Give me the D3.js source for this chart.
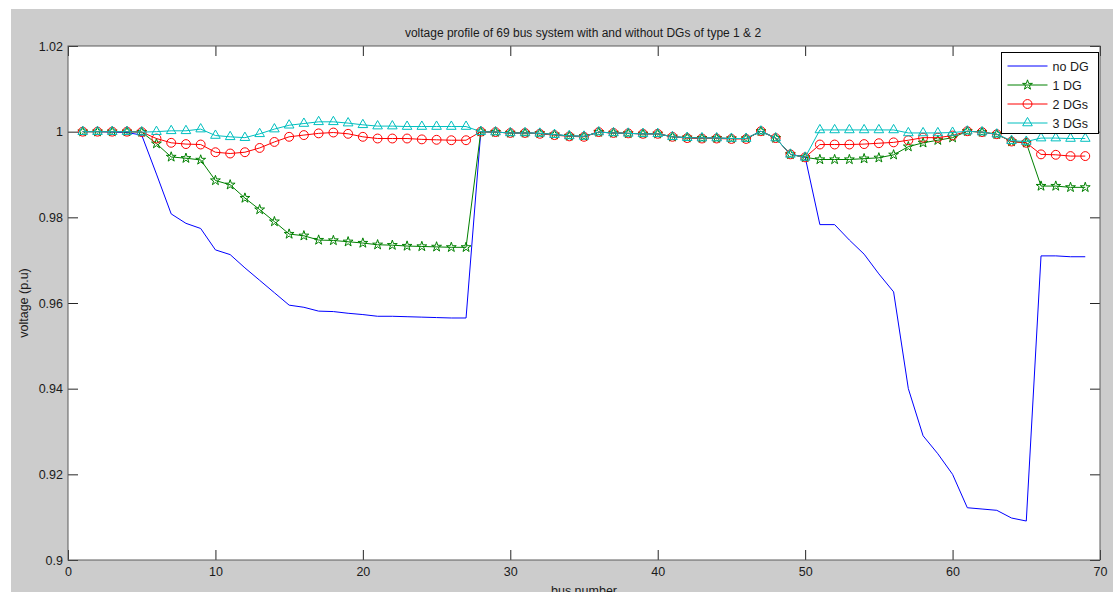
<!DOCTYPE html>
<html>
<head>
<meta charset="utf-8">
<script src="https://cdn.jsdelivr.net/npm/d3@7"></script>
<style>
    html, body { margin: 0; padding: 0; background: #ffffff; }
    svg { display: block; }
    text { font-family: Arial, "Liberation Sans", sans-serif; fill: #1a1a1a; }
</style>
</head>
<body>
<svg id="chart" width="1113" height="592"></svg>
<script>

//*************************************************
// Data
//*************************************************
var busNumbers = [1, 2, 3, 4, 5, 6, 7, 8, 9, 10, 11, 12, 13, 14, 15, 16, 17, 18, 19, 20,
    21, 22, 23, 24, 25, 26, 27, 28, 29, 30, 31, 32, 33, 34, 35, 36, 37, 38, 39, 40,
    41, 42, 43, 44, 45, 46, 47, 48, 49, 50, 51, 52, 53, 54, 55, 56, 57, 58, 59, 60,
    61, 62, 63, 64, 65, 66, 67, 68, 69];

var vNoDG = [1.0000, 1.0000, 0.9999, 0.9998, 0.9992, 0.9901, 0.9808, 0.9786, 0.9774, 0.9724,
    0.9713, 0.9682, 0.9653, 0.9624, 0.9595, 0.9590, 0.9581, 0.9580, 0.9576, 0.9573,
    0.9569, 0.9569, 0.9568, 0.9567, 0.9566, 0.9565, 0.9565,
    1.0000, 0.9999, 0.9997, 0.9997, 0.9996, 0.9993, 0.9990, 0.9989, 0.9999, 0.9997,
    0.9996, 0.9995, 0.9995, 0.9988, 0.9986, 0.9985, 0.9985, 0.9984, 0.9984, 1.0001,
    0.9985, 0.9947, 0.9941,
    0.9783, 0.9783, 0.9747, 0.9714, 0.9668, 0.9626, 0.9400, 0.9290, 0.9248, 0.9200,
    0.9122, 0.9119, 0.9116, 0.9098, 0.9091, 0.9710, 0.9710, 0.9708, 0.9708];

var v1DG = [1.0000, 1.0000, 1.0000, 1.0000, 0.9999, 0.9972, 0.9941, 0.9938, 0.9934, 0.9886,
    0.9876, 0.9845, 0.9818, 0.9790, 0.9761, 0.9757, 0.9747, 0.9746, 0.9743, 0.9740,
    0.9736, 0.9735, 0.9733, 0.9732, 0.9731, 0.9730, 0.9730,
    1.0000, 0.9999, 0.9997, 0.9997, 0.9996, 0.9993, 0.9990, 0.9989, 0.9999, 0.9997,
    0.9996, 0.9995, 0.9995, 0.9988, 0.9986, 0.9985, 0.9985, 0.9984, 0.9984, 1.0001,
    0.9985, 0.9947, 0.9940,
    0.9935, 0.9935, 0.9935, 0.9937, 0.9939, 0.9946, 0.9965, 0.9974, 0.9980, 0.9986,
    1.0001, 0.9999, 0.9994, 0.9977, 0.9974, 0.9873, 0.9873, 0.9870, 0.9870];

var v2DGs = [1.0000, 1.0000, 1.0000, 1.0000, 0.9999, 0.9984, 0.9974, 0.9971, 0.9970, 0.9952,
    0.9949, 0.9952, 0.9962, 0.9976, 0.9988, 0.9992, 0.9996, 0.9998, 0.9995, 0.9988,
    0.9984, 0.9984, 0.9984, 0.9982, 0.9981, 0.9980, 0.9980,
    1.0000, 0.9999, 0.9997, 0.9997, 0.9995, 0.9992, 0.9989, 0.9988, 0.9999, 0.9997,
    0.9996, 0.9995, 0.9995, 0.9988, 0.9985, 0.9984, 0.9984, 0.9983, 0.9983, 1.0001,
    0.9985, 0.9947, 0.9940,
    0.9970, 0.9970, 0.9970, 0.9971, 0.9973, 0.9975, 0.9980, 0.9986, 0.9986, 0.9991,
    1.0001, 0.9999, 0.9994, 0.9977, 0.9974, 0.9947, 0.9946, 0.9943, 0.9943];

var v3DGs = [1.0000, 1.0000, 1.0000, 1.0000, 0.9999, 1.0000, 1.0002, 1.0002, 1.0006, 0.9991,
    0.9988, 0.9986, 0.9995, 1.0006, 1.0015, 1.0019, 1.0023, 1.0023, 1.0020, 1.0016,
    1.0013, 1.0013, 1.0012, 1.0012, 1.0012, 1.0012, 1.0012,
    1.0000, 0.9999, 0.9997, 0.9997, 0.9996, 0.9993, 0.9990, 0.9989, 0.9999, 0.9997,
    0.9996, 0.9995, 0.9995, 0.9988, 0.9986, 0.9985, 0.9985, 0.9984, 0.9984, 1.0001,
    0.9985, 0.9947, 0.9940,
    1.0004, 1.0004, 1.0004, 1.0004, 1.0004, 1.0004, 0.9997, 0.9997, 0.9997, 0.9998,
    1.0001, 0.9999, 0.9994, 0.9979, 0.9977, 0.9985, 0.9985, 0.9984, 0.9984];

var seriesNames = ['no DG', '1 DG', '2 DGs', '3 DGs'];
var xTicks = [0, 10, 20, 30, 40, 50, 60, 70];
var yTicks = [0.9, 0.92, 0.94, 0.96, 0.98, 1, 1.02];

var titleText = 'voltage profile of 69 bus system with and without DGs of type 1 & 2';
var xLabel = 'bus number';
var yLabel = 'voltage (p.u)';

//*************************************************
// Styles
//*************************************************
var _colors = ['#0000ff', '#008000', '#ff0000', '#00bfbf'];
var _markers = [null, d3.symbolStar, d3.symbolCircle, d3.symbolTriangle];
var _markerSizes = [0, 30, 62, 40];

var svg = d3.select('#chart');
var box = { left: 68, right: 1100, top: 46, bottom: 560 };

// figure background (MATLAB grey) with the white strip top / left
svg.append('rect').attr('width', 1113).attr('height', 592).attr('fill', '#ffffff');
svg.append('rect').attr('x', 11).attr('y', 9).attr('width', 1102).attr('height', 583).attr('fill', '#cccccc');
svg.append('rect')
    .attr('x', box.left).attr('y', box.top)
    .attr('width', box.right - box.left).attr('height', box.bottom - box.top)
    .attr('fill', '#ffffff');

var x = d3.scaleLinear().domain([0, 70]).range([box.left, box.right]);
var y = d3.scaleLinear().domain([0.9, 1.02]).range([box.bottom, box.top]);

//----------------------------------------------------------------------------------
// Axes: ticks inside on all four sides, like a MATLAB box
//----------------------------------------------------------------------------------
var tickLen = 10;
var axisStyle = function (g, showLabels){
    g.select('.domain').remove();
    g.selectAll('.tick line').attr('stroke', '#262626');
    g.selectAll('.tick text').attr('fill', '#1a1a1a').style('font-size', '12.5px');
    if (!showLabels){
        g.selectAll('.tick text').remove();
    }
};

svg.append('g')
    .attr('transform', 'translate(0,' + box.bottom + ')')
    .call(d3.axisBottom(x).tickValues(xTicks).tickSizeInner(-tickLen).tickSizeOuter(0).tickPadding(7).tickFormat(d3.format('d')))
    .call(axisStyle, true);
svg.append('g')
    .attr('transform', 'translate(0,' + box.top + ')')
    .call(d3.axisTop(x).tickValues(xTicks).tickSizeInner(-tickLen).tickSizeOuter(0))
    .call(axisStyle, false);
svg.append('g')
    .attr('transform', 'translate(' + box.left + ',0)')
    .call(d3.axisLeft(y).tickValues(yTicks).tickSizeInner(-tickLen).tickSizeOuter(0).tickPadding(5).tickFormat(function (d){ return String(+d.toFixed(2)); }))
    .call(axisStyle, true);
svg.append('g')
    .attr('transform', 'translate(' + box.right + ',0)')
    .call(d3.axisRight(y).tickValues(yTicks).tickSizeInner(-tickLen).tickSizeOuter(0))
    .call(axisStyle, false);

//----------------------------------------------------------------------------------
// Series
//----------------------------------------------------------------------------------
var allSeries = [vNoDG, v1DG, v2DGs, v3DGs];
var line = d3.line()
    .x(function (d, i){ return x(busNumbers[i]); })
    .y(function (d){ return y(d); });

var plot = svg.append('g').attr('class', 'plot');
allSeries.forEach(function (values, s){
    var g = plot.append('g');
    g.append('path')
        .attr('d', line(values))
        .attr('fill', 'none')
        .attr('stroke', _colors[s])
        .attr('stroke-width', 1);
    if (_markers[s]){
        var sym = d3.symbol().type(_markers[s]).size(_markerSizes[s]);
        g.selectAll('path.mk').data(values).enter().append('path')
            .attr('class', 'mk')
            .attr('d', sym)
            .attr('transform', function (d, i){ return 'translate(' + x(busNumbers[i]) + ',' + y(d) + ')'; })
            .attr('fill', 'none')
            .attr('stroke', _colors[s])
            .attr('stroke-width', 1);
    }
});

// box outline on top
svg.append('rect')
    .attr('x', box.left).attr('y', box.top)
    .attr('width', box.right - box.left).attr('height', box.bottom - box.top)
    .attr('fill', 'none').attr('stroke', '#5a5a5a').attr('stroke-width', 1);

//----------------------------------------------------------------------------------
// Legend
//----------------------------------------------------------------------------------
var legend = svg.append('g').attr('transform', 'translate(1001.5,52.5)');
legend.append('rect').attr('width', 97).attr('height', 81)
    .attr('fill', '#ffffff').attr('stroke', '#000000').attr('stroke-width', 1);
seriesNames.forEach(function (name, s){
    var ly = 13.5 + s * 19;
    legend.append('line').attr('x1', 6).attr('x2', 46).attr('y1', ly).attr('y2', ly)
        .attr('stroke', _colors[s]).attr('stroke-width', 1);
    if (_markers[s]){
        legend.append('path')
            .attr('d', d3.symbol().type(_markers[s]).size(_markerSizes[s]))
            .attr('transform', 'translate(26,' + ly + ')')
            .attr('fill', 'none').attr('stroke', _colors[s]);
    }
    legend.append('text').attr('x', 51).attr('y', ly).attr('dy', '0.36em')
        .style('font-size', '12.5px').text(name);
});

//----------------------------------------------------------------------------------
// Title and axis labels
//----------------------------------------------------------------------------------
svg.append('text').attr('x', 583).attr('y', 33).attr('dy', '0.35em')
    .attr('text-anchor', 'middle').style('font-size', '12px').text(titleText);
svg.append('text').attr('x', 584).attr('y', 591).attr('dy', '0.35em')
    .attr('text-anchor', 'middle').style('font-size', '12.5px').text(xLabel);
svg.append('text').attr('transform', 'translate(24,303) rotate(-90)').attr('dy', '0.35em')
    .attr('text-anchor', 'middle').style('font-size', '12.5px').text(yLabel);

</script>
</body>
</html>
